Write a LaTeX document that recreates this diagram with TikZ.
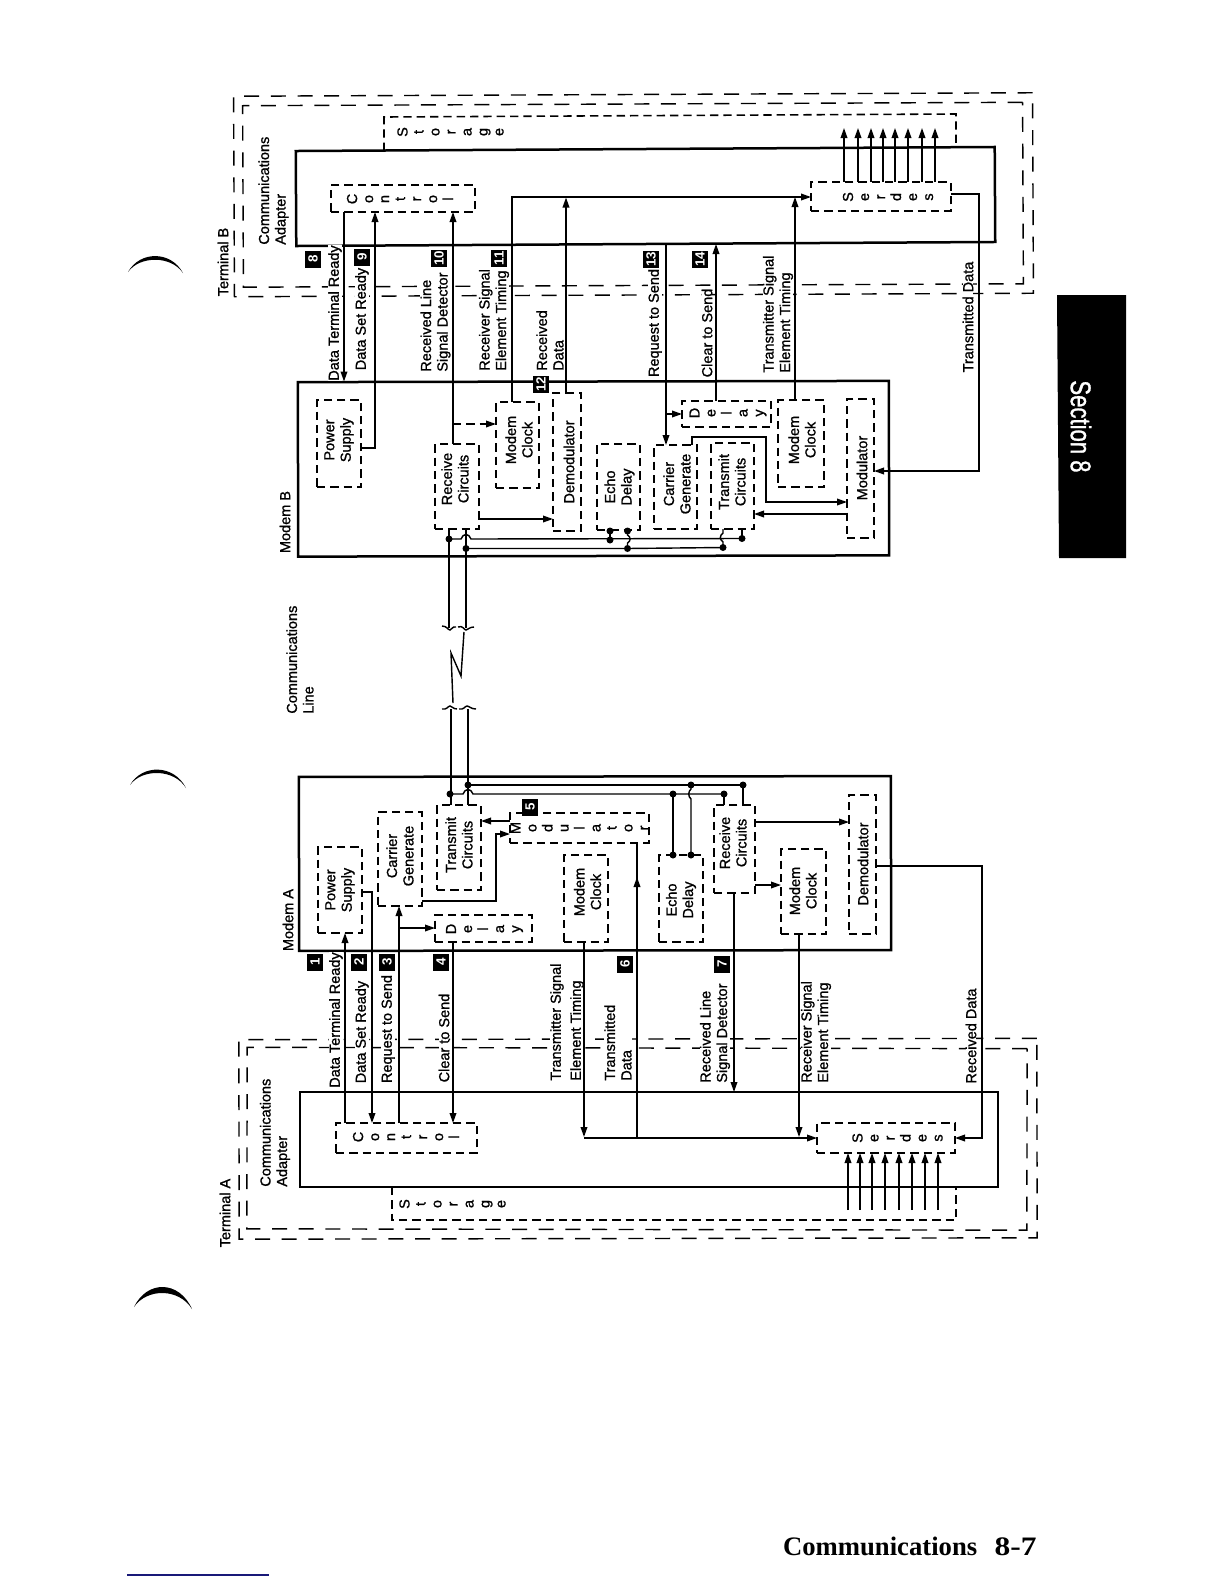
\documentclass[tikz,border=0pt]{standalone}
\usepackage{fontspec}
\usetikzlibrary{arrows.meta}
\newfontfamily\lab[FakeBold=1.1]{Liberation Sans}
\newfontfamily\tabfont{Liberation Sans}
\newfontfamily\secfont[FakeBold=1.2]{Liberation Sans}
\newfontfamily\foot{Liberation Serif}
\newcommand\bx[8]{\node[box,minimum width={(#4-#2)*0.6pt},minimum height={(#5-#3)*0.6pt}] (#1) at ({(#2+#4)/2},{(#3+#5)/2}) {};
  \node[txt,rotate=90] (#1t) at (#6,#7) {#8};}
\newcommand\sbx[8]{\node[box,minimum width={(#4-#2)*0.6pt},minimum height={(#5-#3)*0.6pt}] (#1) at ({(#2+#4)/2},{(#3+#5)/2}) {};
  \node[stk,rotate=90] (#1t) at (#6,#7) {#8};}
\newcommand\frm[7]{\node[#7,minimum width={(#4-#2)*0.6pt},minimum height={(#5-#3)*0.6pt},rotate=#6] (#1) at ({(#2+#4)/2},{(#3+#5)/2}) {};}
\tikzset{
  box/.style={draw,line width=.95pt,dash pattern=on 5pt off 3pt,inner sep=0pt,outer sep=0pt},
  solidframe/.style={draw,line width=1.5pt,inner sep=0pt,outer sep=0pt},
  termframe/.style={draw,line width=.85pt,dash pattern=on 9pt off 7pt,inner sep=0pt,outer sep=0pt},
  txt/.style={font={\lab\fontsize{8.7}{9.9}\selectfont},align=center,inner sep=0pt},
  ltxt/.style={font={\lab\fontsize{8.7}{9.9}\selectfont},align=left,inner sep=0pt,rotate=90,anchor=west},
  sig/.style={txt,rotate=90,fill=white},
  lsig/.style={ltxt,fill=white},
  stk/.style={font={\lab\fontsize{8.7}{9.6}\selectfont},align=center,inner sep=0pt},
  badge/.style={fill=black,text=white,rotate=90,minimum width=10.2pt,minimum height=9.6pt,inner sep=0pt,font={\tabfont\bfseries\fontsize{8}{9}\selectfont}},
  wire/.style={line width=.85pt},
  arr/.style={wire,-{Stealth[inset=0pt,length=6pt,width=4pt]}},
  dsharr/.style={wire,dash pattern=on 5pt off 3pt,-{Stealth[inset=0pt,length=6pt,width=4pt]}},
  jn/.style={circle,fill=black,inner sep=0pt,minimum size=4.2pt},
}
\begin{document}
\begin{tikzpicture}[x=0.6pt,y=-0.6pt]
\useasboundingbox (0,0) rectangle (1224,1584);
\fill[white] (0,0) rectangle (1224,1584);

% ---- Terminal B frames
\frm{tbO}{234}{94.5}{1033}{295}{0.25}{termframe}
\frm{tbI}{243}{104}{1023}{285.5}{0.25}{termframe}
\node[txt,rotate=90] (tbL) at (223,262) {Terminal B};
\frm{caB}{296}{149}{995}{244}{0.33}{solidframe}
\node[ltxt] (caBL) at (273.5,245) {Communications\\Adapter};
\frm{mB}{298}{381.5}{889}{556}{0.12}{solidframe}
\node[txt,rotate=90] (mBL) at (285,522) {Modem B};
\coordinate (stB1) at (384,151); \coordinate (stB2) at (384,117);
\coordinate (stB3) at (956,114); \coordinate (stB4) at (956,147);
\draw[box] (stB1) -- (stB2) -- (stB3) -- (stB4);
\node[stk,rotate=90] (stBt) at (450.5,132) {S\\t\\o\\r\\a\\g\\e};

% ---- Terminal A frames
\frm{taO}{239}{1039}{1037}{1238.5}{0.1}{termframe}
\frm{taI}{247}{1048}{1027}{1229.5}{-0.1}{termframe}
\node[txt,rotate=90] (taL) at (225,1213) {Terminal A};
\frm{caA}{300}{1092}{998}{1187}{0}{solidframe}
\node[ltxt] (caAL) at (275,1187) {Communications\\Adapter};
\frm{mA}{299}{776.5}{891}{950.5}{0.08}{solidframe}
\node[txt,rotate=90] (mAL) at (288,920) {Modem A};
\coordinate (stA1) at (392,1187); \coordinate (stA2) at (392,1220);
\coordinate (stA3) at (956,1220); \coordinate (stA4) at (956,1187);
\draw[box] (stA1) -- (stA2) -- (stA3) -- (stA4);
\node[stk,rotate=90] (stAt) at (452.5,1204) {S\\t\\o\\r\\a\\g\\e};

% ---- Signal labels B
\node[sig] (l8) at (335,313) {Data Terminal Ready};
\node[sig] (l9) at (362,319) {Data Set Ready};
\node[lsig] (l10) at (435.5,372) {Received Line\\Signal Detector};
\node[lsig] (l11) at (494,371) {Receiver Signal\\Element Timing};
\node[lsig] (l12) at (550,371) {Received\\Data};
\node[sig] (l13) at (655,323) {Request to Send};
\node[sig] (l14) at (707,333) {Clear to Send};
\node[lsig] (l15) at (778,373) {Transmitter Signal\\Element Timing};
\node[sig] (l16) at (968,317) {Transmitted Data};
\node[ltxt] (lCL) at (300,714) {Communications\\Line};

% ---- Signal labels A
\node[sig] (a1) at (336,1020) {Data Terminal Ready};
\node[sig] (a2) at (362,1032) {Data Set Ready};
\node[sig] (a3) at (388,1029) {Request to Send};
\node[sig] (a4) at (444,1038) {Clear to Send};
\node[lsig] (a5) at (567,1081) {Transmitter Signal\\[2.1pt]Element Timing};
\node[lsig] (a6) at (618,1081) {Transmitted\\Data};
\node[lsig] (a7) at (715,1083) {Received Line\\Signal Detector};
\node[lsig] (a8) at (816,1083) {Receiver Signal\\Element Timing};
\node[sig] (a9) at (971,1036) {Received Data};

% ---- Boxes B
\sbx{ctB}{331}{185}{475}{212}{400}{199}{C\\o\\n\\t\\r\\o\\l}
\sbx{sdB}{811}{182}{951}{211}{888}{197}{S\\e\\r\\d\\e\\s}
\bx{psB}{317}{400}{361}{487}{339}{440}{Power\\Supply}
\bx{rcB}{435}{444}{479}{529}{455}{479}{Receive\\Circuits}
\bx{clB}{496}{402}{539}{488}{519}{440}{Modem\\Clock}
\bx{dmB}{553}{393}{581}{531}{569}{462}{Demodulator}
\bx{ecB}{597}{444}{640}{530}{619.5}{487}{Echo\\Delay}
\bx{cgB}{654}{445}{697}{529}{677}{484}{Carrier\\Generate}
\bx{txB}{711}{443}{754}{529}{732}{482}{Transmit\\Circuits}
\sbx{dlB}{682}{401}{771}{427}{728}{413}{D\\e\\l\\a\\y}
\bx{ckB}{778}{400}{824}{487}{802}{440}{Modem\\Clock}
\bx{moB}{847}{399}{874}{538}{862}{468}{Modulator}

% ---- Boxes A
\sbx{ctA}{336}{1123}{477}{1153}{406}{1137}{C\\o\\n\\t\\r\\o\\l}
\sbx{sdA}{817}{1123}{955}{1153}{897.5}{1138}{S\\e\\r\\d\\e\\s}
\bx{psA}{318}{847}{362}{933}{340}{890}{Power\\Supply}
\bx{cgA}{378}{812}{422}{906}{400}{856}{Carrier\\Generate}
\bx{txA}{437}{805}{481}{890}{459}{845}{Transmit\\Circuits}
\sbx{dlA}{435}{915}{532}{942}{484.5}{929}{D\\e\\l\\a\\y}
\sbx{moA}{510}{813}{649}{843}{579.5}{828}{M\\o\\d\\u\\l\\a\\t\\o\\r}
\bx{ckA}{564}{855}{608}{942}{587.5}{892}{Modem\\Clock}
\bx{ecA}{659}{855}{703}{942}{681}{900}{Echo\\Delay}
\bx{rcA}{714}{805}{755}{893}{733}{843}{Receive\\Circuits}
\bx{cjA}{781}{849}{826}{934}{803}{891}{Modem\\Clock}
\bx{dmA}{849}{795}{876}{934}{863}{864}{Demodulator}

% ---- Connectors B
\draw[arr] (ctB.south -| 344,0) -- (mB.north -| 344,0);
\draw[arr] (psB.east |- 0,448) -- (375,448) -- (ctB.south -| 375,0);
\draw[arr] (rcB.north -| 453,0) -- (ctB.south -| 453,0);
\draw[dsharr] (453,424) -- (clB.west |- 0,424);
\draw[arr] (clB.north -| 512,0) -- (512,197) -- (sdB.west |- 0,197);
\draw[arr] (dmB.north -| 566,0) -- (566,197.5);
\draw[arr] (rcB.east |- 0,519) -- (dmB.west |- 0,519);
\draw[arr] (caB.south -| 666,0) -- (cgB.north -| 666,0);
\draw[arr] (666,414) -- (dlB.west |- 0,414);
\draw[arr] (dlB.north -| 716,0) -- (caB.south -| 716,0);
\draw[arr] (ckB.north -| 795,0) -- (795,197);
\draw[arr] (sdB.east |- 0,194) -- (979,194) -- (979,471) -- (moB.east |- 0,471);
\draw[arr] (cgB.north -| 692,0) -- (692,437) -- (766,437) -- (766,502) -- (moB.west |- 0,502);
\draw[arr] (moB.west |- 0,514) -- (txB.east |- 0,514);
\foreach \xx in {844,858,871,883,895,908,922,935}
  \draw[arr] (sdB.north -| \xx,0) -- (\xx,128);

% ---- Connectors A
\draw[arr] (ctA.north -| 345,0) -- (psA.south -| 345,0);
\draw[arr] (psA.east |- 0,892) -- (372,892) -- (ctA.north -| 372,0);
\draw[arr] (ctA.north -| 399,0) -- (cgA.south -| 399,0);
\draw[arr] (399,928) -- (dlA.west |- 0,928);
\draw[arr] (dlA.south -| 453,0) -- (ctA.north -| 453,0);
\draw[arr] (ckA.south -| 584,0) -- (584,1137);
\draw[arr] (584,1138) -- (sdA.west |- 0,1138);
\draw[wire] (637,1138) -- (moA.south -| 637,0);
\draw[arr] (637,900) -- (637,877);
\draw[arr] (rcA.south -| 734,0) -- (caA.north -| 734,0);
\draw[arr] (rcA.east |- 0,822) -- (dmA.west |- 0,822);
\draw[arr] (rcA.east |- 0,885) -- (cjA.west |- 0,885);
\draw[arr] (cjA.south -| 799,0) -- (799,1137);
\draw[arr] (dmA.east |- 0,866) -- (982,866) -- (982,1138) -- (sdA.east |- 0,1138);
\draw[arr] (moA.west |- 0,821) -- (txA.east |- 0,821);
\draw[arr] (cgA.east |- 0,901) -- (496,901) -- (496,834) -- (moA.west |- 0,834);
\foreach \xx in {848,860,872,885,899,912,925,938}
  \draw[arr] (\xx,1210) -- (sdA.south -| \xx,0);

% ---- Junctions B
\node[jn] (j1) at (449,539) {};
\node[jn] (j2) at (466,548.5) {};
\node[jn] (j3) at (610,531) {};
\node[jn] (j4) at (627.5,531) {};
\node[jn] (j5) at (610,540) {};
\node[jn] (j6) at (627.5,548.5) {};
\node[jn] (j7) at (723,547.5) {};
\node[jn] (j8) at (742,538.5) {};
\draw[wire] (rcB.south -| 449,0) -- (449,628);
\draw[wire] (rcB.south -| 466,0) -- (466,628);
\draw[wire] (j1.center) -- (461,539) .. controls (463,533) and (469,533) .. (471,539) -- (j8.center);
\draw[wire] (j2.center) -- (j6.center) -- (j7.center);
\draw[wire] (j3.center) -- (j5.center);
\draw[wire] (j4.center) -- (627.5,535) .. controls (631,537) and (631,541) .. (627.5,543) -- (j6.center);
\draw[wire] (txB.south -| 723,0) -- (723,533) .. controls (719.5,535.5) and (719.5,539.5) .. (723,542) -- (j7.center);
\draw[wire] (txB.south -| 742,0) -- (j8.center);

% ---- Communication line
\coordinate (lnA) at (451,709); \coordinate (lnB) at (468,709);
\draw[wire] (442,626) .. controls (447,626) and (448,630) .. (450,630) .. controls (452,630) and (452,626) .. (456,627);
\draw[wire] (458,627) .. controls (463,625) and (464,630) .. (466,630) .. controls (468,630) and (469,627) .. (474,627);
\draw[wire] (442,709) .. controls (447,710) and (448,706) .. (450,706) .. controls (452,706) and (453,709) .. (457,709);
\draw[wire] (459,709) .. controls (464,710) and (465,706) .. (467,706) .. controls (469,706) and (471,709) .. (476,709);
\draw[wire] (464,632) -- (461,676) -- (451,653) -- (453,703);

% ---- Junctions A
\node[jn] (k1) at (450,794) {};
\node[jn] (k2) at (468,785) {};
\node[jn] (k3) at (691,785) {};
\node[jn] (k4) at (743,785) {};
\node[jn] (k5) at (673,794) {};
\node[jn] (k6) at (724,794) {};
\node[jn] (k7) at (673,855) {};
\node[jn] (k8) at (691,855) {};
\draw[wire] (lnA) -- (txA.north -| 451,0);
\draw[wire] (lnB) -- (txA.north -| 468,0);
\draw[wire] (k2.center) -- (k3.center) -- (k4.center);
\draw[wire] (k1.center) -- (463,794) .. controls (465,788) and (471,788) .. (473,794) -- (k5.center) -- (k6.center);
\draw[wire] (k5.center) -- (k7.center);
\draw[wire] (k3.center) -- (691,789) .. controls (688,791.5) and (688,796.5) .. (691,799) -- (k8.center);
\draw[wire] (k6.center) -- (rcA.north -| 724,0);
\draw[wire] (k4.center) -- (rcA.north -| 743,0);

% ---- Badges
\node[badge] (b8) at (313,259) {8};
\node[badge] (b9) at (362,257) {9};
\node[badge] (b10) at (439,258) {10};
\node[badge] (b11) at (499,258) {11};
\node[badge] (b12) at (541,384) {12};
\node[badge] (b13) at (651,259) {13};
\node[badge] (b14) at (700,259) {14};
\node[badge] (c1) at (315,962) {1};
\node[badge] (c2) at (359,962) {2};
\node[badge] (c3) at (387,962) {3};
\node[badge] (c4) at (441,962) {4};
\node[badge] (c5) at (530,807) {5};
\node[badge] (c6) at (625,964) {6};
\node[badge] (c7) at (722,964) {7};

% ---- Page furniture
\fill[black] (1057,295) -- (1126,295) -- (1126,558) -- (1059,558) -- cycle;
\node[rotate=-90,text=white,inner sep=0pt,font={\secfont\fontsize{17}{17}\selectfont}] (sec) at (1081,426.5) {\scalebox{0.78}[1]{Section 8}};
\fill[black] (128,272) .. controls (140,250.6) and (171,250.6) .. (183,273) .. controls (171,255.5) and (140,255.5) .. (128,272) -- cycle;
\fill[black] (130,785) .. controls (142,764) and (174,764) .. (186,788) .. controls (174,768.5) and (142,768.5) .. (130,785) -- cycle;
\fill[black] (134,1307) .. controls (147,1280) and (179,1280) .. (192,1309) .. controls (179,1288) and (147,1288) .. (134,1307) -- cycle;
\node[anchor=base east,inner sep=0pt,font={\foot\bfseries\fontsize{16}{17}\selectfont}] (pg) at (1037,1555) {Communications\hspace{10.5pt}\scalebox{1.18}[1]{8-7}};
\draw[line width=.8pt,color={rgb,255:red,25;green,25;blue,120}] (127,1575) -- (269,1575);
\end{tikzpicture}
\end{document}
